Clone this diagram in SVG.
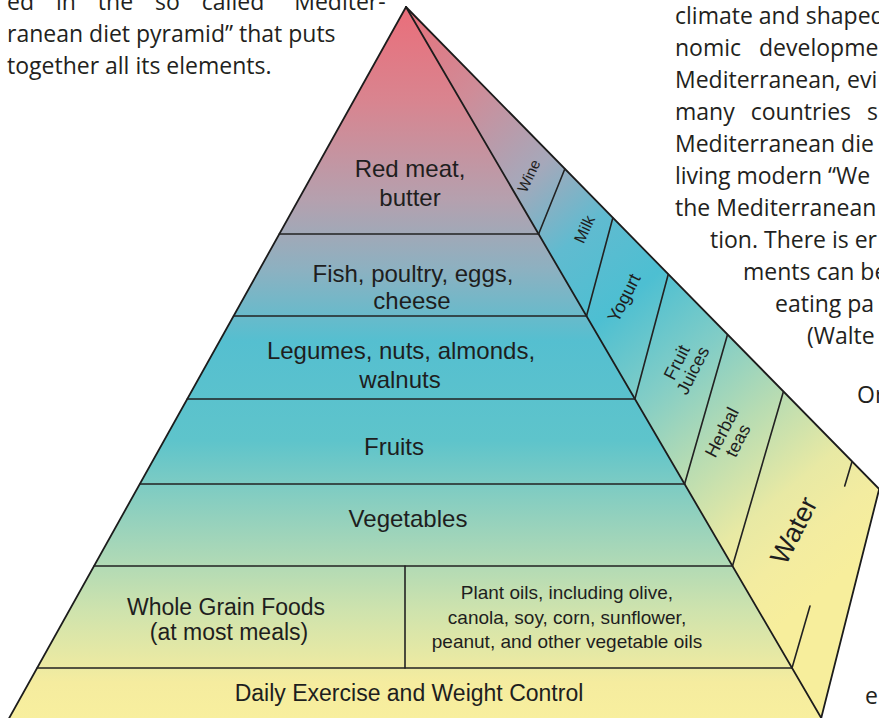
<svg xmlns="http://www.w3.org/2000/svg" width="879" height="718" viewBox="0 0 879 718">
<defs>
<linearGradient id="front" gradientUnits="userSpaceOnUse" x1="0" y1="7" x2="0" y2="718">
<stop offset="0" stop-color="#ea6e7a"/>
<stop offset="0.13" stop-color="#d9848f"/>
<stop offset="0.27" stop-color="#b5a0ae"/>
<stop offset="0.37" stop-color="#8cb1c1"/>
<stop offset="0.47" stop-color="#55bfd0"/>
<stop offset="0.61" stop-color="#5ec4cb"/>
<stop offset="0.72" stop-color="#94d1bd"/>
<stop offset="0.85" stop-color="#cfe3ad"/>
<stop offset="0.95" stop-color="#f5ec9f"/>
<stop offset="1" stop-color="#f8ef9e"/>
</linearGradient>
<linearGradient id="side" gradientUnits="userSpaceOnUse" x1="406" y1="7" x2="860" y2="560">
<stop offset="0" stop-color="#e8707a"/>
<stop offset="0.15" stop-color="#cf8c98"/>
<stop offset="0.29" stop-color="#a6a8ba"/>
<stop offset="0.4" stop-color="#60bbd0"/>
<stop offset="0.51" stop-color="#4dbfd2"/>
<stop offset="0.635" stop-color="#82cdc6"/>
<stop offset="0.75" stop-color="#b8dcb2"/>
<stop offset="0.86" stop-color="#e8e9a4"/>
<stop offset="0.93" stop-color="#f3eca0"/>
<stop offset="1" stop-color="#f7ee9c"/>
</linearGradient>
</defs>
<style>
.para{font-family:"Open Sans","Noto Sans",sans-serif;font-size:23px;fill:#231f20}
.lbl{font-family:"Liberation Sans",Arial,sans-serif;font-size:24px;fill:#1e1e1e;text-anchor:middle}
.sm{font-size:19px}
.mid{font-size:23px}
.sl{font-family:"Liberation Sans",Arial,sans-serif;fill:#1e1e1e;text-anchor:middle}
.ff{fill:url(#front)}
.sf{fill:url(#side)}
.ln{stroke:#222;stroke-width:1.6;fill:none;stroke-linecap:round}
.edge{stroke:#1c1c1c;stroke-width:1.8;fill:none;stroke-linecap:round}
</style>
<rect width="879" height="718" fill="#ffffff"/>

<g id="text-left">
<text class="para" x="7" y="10" word-spacing="16">ed in the so called “Mediter-</text>
<text class="para" x="7" y="42">ranean diet pyramid” that puts</text>
<text class="para" x="7" y="74">together all its elements.</text>
</g>
<g id="text-right">
<text class="para" x="675" y="24">climate and shaped</text>
<text class="para" x="675" y="56" word-spacing="12">nomic developme</text>
<text class="para" x="675" y="88">Mediterranean, evi</text>
<text class="para" x="675" y="120" word-spacing="10">many countries s</text>
<text class="para" x="675" y="152">Mediterranean die</text>
<text class="para" x="675" y="184">living modern “We</text>
<text class="para" x="675" y="216">the Mediterranean</text>
<text class="para" x="710" y="248">tion. There is er</text>
<text class="para" x="743" y="280">ments can be</text>
<text class="para" x="775" y="312">eating pa</text>
<text class="para" x="807" y="344">(Walte</text>
<text class="para" x="857" y="403">Or</text>
<text class="para" x="865" y="704">e</text>
</g>

<g id="tier-red-meat">
<polygon class="ff" points="406,7 538.6,234 279.3,234"/>
<text class="lbl" x="410" y="177">Red meat,</text>
<text class="lbl" x="410" y="206">butter</text>
</g>
<g id="tier-fish">
<polygon class="ff" points="279.3,234 538.6,234 586.5,316 233.6,316"/>
<text class="lbl" x="413" y="282">Fish, poultry, eggs,</text>
<text class="lbl" x="412" y="309">cheese</text>
</g>
<g id="tier-legumes">
<polygon class="ff" points="233.6,316 586.5,316 634.9,399 187.3,399"/>
<text class="lbl" x="401" y="359">Legumes, nuts, almonds,</text>
<text class="lbl" x="400" y="388">walnuts</text>
</g>
<g id="tier-fruits">
<polygon class="ff" points="187.3,399 634.9,399 684.6,484 139.8,484"/>
<text class="lbl" x="394" y="455">Fruits</text>
</g>
<g id="tier-vegetables">
<polygon class="ff" points="139.8,484 684.6,484 732.5,566 94.1,566"/>
<text class="lbl" x="408" y="527">Vegetables</text>
</g>
<g id="tier-whole-grain">
<polygon class="ff" points="94.1,566 405,566 405,668 37.2,668"/>
<text class="lbl mid" x="226" y="615">Whole Grain Foods</text>
<text class="lbl mid" x="229" y="640">(at most meals)</text>
</g>
<g id="tier-plant-oils">
<polygon class="ff" points="405,566 732.5,566 792,668 405,668"/>
<text class="lbl sm" x="567" y="599">Plant oils, including olive,</text>
<text class="lbl sm" x="567" y="624">canola, soy, corn, sunflower,</text>
<text class="lbl sm" x="567" y="648">peanut, and other vegetable oils</text>
</g>
<g id="tier-exercise">
<polygon class="ff" points="37.2,668 792,668 822.4,720 8.1,720"/>
<text class="lbl mid" x="409" y="701">Daily Exercise and Weight Control</text>
</g>

<g id="side-wine">
<polygon class="sf" points="406,7 564.8,169 538.6,234"/>
<text class="sl" font-size="15" transform="translate(529,176) rotate(-65)" y="5">Wine</text>
</g>
<g id="side-milk">
<polygon class="sf" points="538.6,234 564.8,169 612.8,218 586.5,316"/>
<text class="sl" font-size="16" transform="translate(584,229) rotate(-65)" y="6">Milk</text>
</g>
<g id="side-yogurt">
<polygon class="sf" points="586.5,316 612.8,218 668.2,274.5 634.9,399"/>
<text class="sl" font-size="18" transform="translate(624,298) rotate(-63)" y="6">Yogurt</text>
</g>
<g id="side-juices">
<polygon class="sf" points="634.9,399 668.2,274.5 727.4,335 684.6,484"/>
<g transform="translate(684,366) rotate(-63)">
<text class="sl" font-size="18" y="-2">Fruit</text>
<text class="sl" font-size="18" y="16">Juices</text>
</g>
</g>
<g id="side-teas">
<polygon class="sf" points="684.6,484 727.4,335 783.3,392 732.5,566"/>
<g transform="translate(729,436) rotate(-63)">
<text class="sl" font-size="18" y="-2">Herbal</text>
<text class="sl" font-size="18" y="16">teas</text>
</g>
</g>
<g id="side-water">
<polygon class="sf" points="732.5,566 783.3,392 879.2,489 821.2,718"/>
<text class="sl" font-size="27" transform="translate(793,530) rotate(-63)" y="10">Water</text>
</g>

<g id="connectors">
<line class="edge" x1="406" y1="7" x2="8.1" y2="720"/>
<line class="edge" x1="406" y1="7" x2="822.4" y2="720"/>
<line class="edge" x1="406" y1="7" x2="879.2" y2="489"/>
<line class="edge" x1="879.2" y1="489" x2="820.7" y2="720"/>
<line class="ln" x1="279.3" y1="234" x2="538.6" y2="234"/>
<line class="ln" x1="233.6" y1="316" x2="586.5" y2="316"/>
<line class="ln" x1="187.3" y1="399" x2="634.9" y2="399"/>
<line class="ln" x1="139.8" y1="484" x2="684.6" y2="484"/>
<line class="ln" x1="94.1" y1="566" x2="732.5" y2="566"/>
<line class="ln" x1="37.2" y1="668" x2="792" y2="668"/>
<line class="ln" x1="405" y1="566" x2="405" y2="668"/>
<line class="ln" x1="538.6" y1="234" x2="564.8" y2="169"/>
<line class="ln" x1="586.5" y1="316" x2="612.8" y2="218"/>
<line class="ln" x1="634.9" y1="399" x2="668.2" y2="274.5"/>
<line class="ln" x1="684.6" y1="484" x2="727.4" y2="335"/>
<line class="ln" x1="732.5" y1="566" x2="783.3" y2="392"/>
<line class="ln" x1="851.9" y1="462" x2="844.7" y2="486"/>
<line class="ln" x1="792" y1="668" x2="810" y2="606"/>
</g>
</svg>
